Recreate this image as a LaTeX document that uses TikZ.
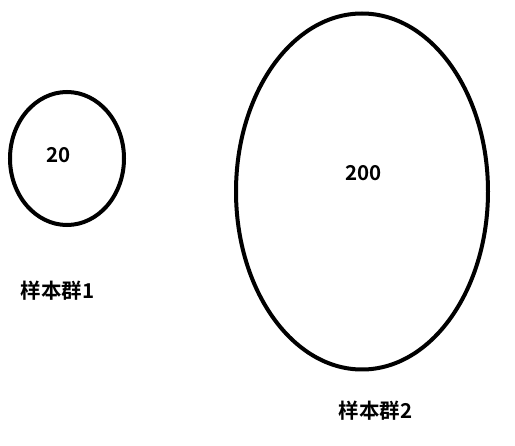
\documentclass[tikz,border=0pt]{standalone}
\usepackage{fontspec}
\setmainfont{Noto Sans CJK SC}[BoldFont={* Bold}]
\begin{document}
\begin{tikzpicture}[x=1pt,y=-1pt,
  ring/.style={line width=4pt},
  lbl/.style={font=\fontsize{20.5}{20.5}\selectfont\bfseries,inner sep=0pt}]
\useasboundingbox (0,0) rectangle (515,446);
\draw[ring] (67,158.5) ellipse [x radius=57, y radius=66.5];
\draw[ring] (362,191.5) ellipse [x radius=126, y radius=178];
\node[lbl] (a) at (59,155) {20};
\node[lbl] (b) at (363.5,173.5) {200};
\node[lbl] (c) at (57.5,291) {样本群1};
\node[lbl] (d) at (375.5,411) {样本群2};
\end{tikzpicture}
\end{document}
